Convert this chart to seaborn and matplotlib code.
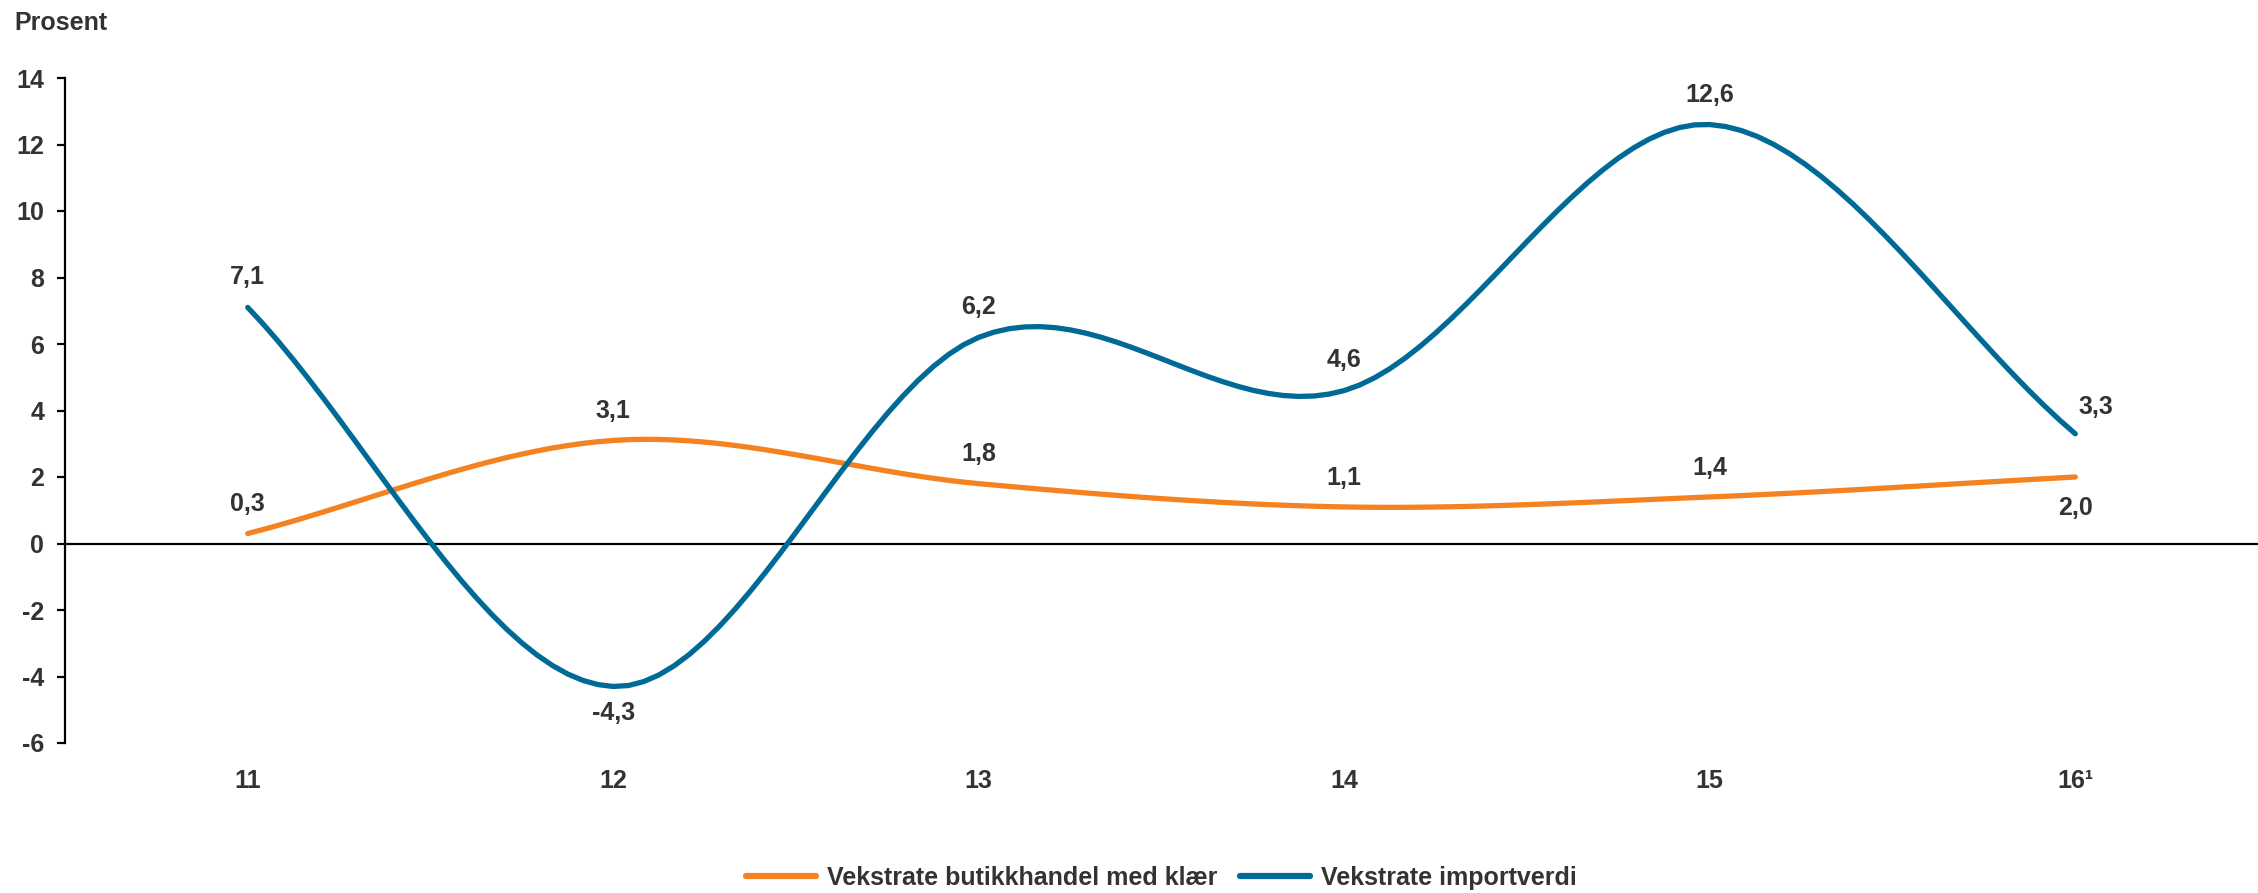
import matplotlib
matplotlib.use("Agg")
import matplotlib.pyplot as plt
import numpy as np
import pandas as pd
import seaborn as sns

YEARS = ["11", "12", "13", "14", "15", "16¹"]
CLOTHES = [0.3, 3.1, 1.8, 1.1, 1.4, 2.0]
IMPORTS = [7.1, -4.3, 6.2, 4.6, 12.6, 3.3]
SERIES = ["Vekstrate butikkhandel med klær", "Vekstrate importverdi"]

ORANGE = "#F58220"
BLUE = "#006A96"
TEXT = "#333333"


def smooth(values, steps=24):
    """Catmull-Rom curve through the points, like a spreadsheet 'smoothed line'."""
    p = np.asarray(values, dtype=float)
    # phantom end points mirrored, so the ends run straight at the neighbour
    p = np.concatenate([[2 * p[0] - p[1]], p, [2 * p[-1] - p[-2]]])
    n = len(p)
    xs, ys = [], []
    for i in range(1, n - 2):
        m0 = (p[i + 1] - p[i - 1]) / 2
        m1 = (p[i + 2] - p[i]) / 2
        t = np.linspace(0, 1, steps, endpoint=(i == n - 3))
        h00 = 2 * t**3 - 3 * t**2 + 1
        h10 = t**3 - 2 * t**2 + t
        h01 = -2 * t**3 + 3 * t**2
        h11 = t**3 - t**2
        xs.append(i - 1 + t)
        ys.append(h00 * p[i] + h10 * m0 + h01 * p[i + 1] + h11 * m1)
    return np.concatenate(xs), np.concatenate(ys)


frames = []
for name, vals in zip(SERIES, [CLOTHES, IMPORTS]):
    x, y = smooth(vals)
    frames.append(pd.DataFrame({"x": x, "y": y, "serie": name}))
df = pd.concat(frames, ignore_index=True)

sns.set_style("white")
plt.rcParams["font.family"] = ["Liberation Sans", "DejaVu Sans"]
plt.rcParams["font.weight"] = "bold"
plt.rcParams["axes.unicode_minus"] = False

fig = plt.figure(figsize=(22.58, 8.93), dpi=100)
ax = fig.add_axes([65 / 2258, 1 - 743 / 893, 1 - 65 / 2258, (743 - 78) / 893])

ax.axhline(0, color="black", lw=1.6, zorder=1)
sns.lineplot(data=df, x="x", y="y", hue="serie", palette=[ORANGE, BLUE],
             sort=False, lw=3.8, ax=ax, legend=True, zorder=3)

# data labels
offsets_c = [21, 21, 21, 21, 21, -22]
offsets_i = [22, -19, 22, 22, 21, 19]
for i, (v, o) in enumerate(zip(CLOTHES, offsets_c)):
    ax.annotate(f"{v:.1f}".replace(".", ","), (i, v), xytext=(0, o),
                textcoords="offset points", ha="center", va="center",
                fontsize=18, fontweight="bold", color=TEXT)
for i, (v, o) in enumerate(zip(IMPORTS, offsets_i)):
    dx = 15 if i == len(IMPORTS) - 1 else 0
    ax.annotate(f"{v:.1f}".replace(".", ","), (i, v), xytext=(dx, o),
                textcoords="offset points", ha="center", va="center",
                fontsize=18, fontweight="bold", color=TEXT)

ax.set_xlim(-0.5, 5.5)
ax.set_ylim(-6, 14)
ax.set_yticks(range(-6, 15, 2))
ax.set_xticks(range(len(YEARS)))
ax.set_xticklabels(YEARS)
ax.set_xlabel("")
ax.set_ylabel("")

for s in ["top", "right", "bottom"]:
    ax.spines[s].set_visible(False)
ax.spines["left"].set_color("black")
ax.spines["left"].set_linewidth(1.6)
ax.tick_params(axis="y", left=True, length=6, width=1.6, pad=9,
               labelsize=18, labelcolor=TEXT, color="black")
ax.tick_params(axis="x", bottom=False, pad=15, labelsize=18, labelcolor=TEXT)
for lab in ax.get_xticklabels() + ax.get_yticklabels():
    lab.set_fontweight("bold")

fig.text(14 / 2258, 1 - 23 / 893, "Prosent", fontsize=18, fontweight="bold",
         color=TEXT, va="center", ha="left")

handles, labels = ax.get_legend_handles_labels()
ax.get_legend().remove()
for h in handles:
    h.set_linewidth(4.5)
leg = fig.legend(handles, labels, loc="center", ncol=2, frameon=False,
                 bbox_to_anchor=((65 + 2258) / 2 / 2258, 15 / 893),
                 fontsize=18, handlelength=2.8, handletextpad=0.45,
                 columnspacing=0.9)
for t in leg.get_texts():
    t.set_color(TEXT)
    t.set_fontweight("bold")

fig.savefig("out.png", dpi=100)
